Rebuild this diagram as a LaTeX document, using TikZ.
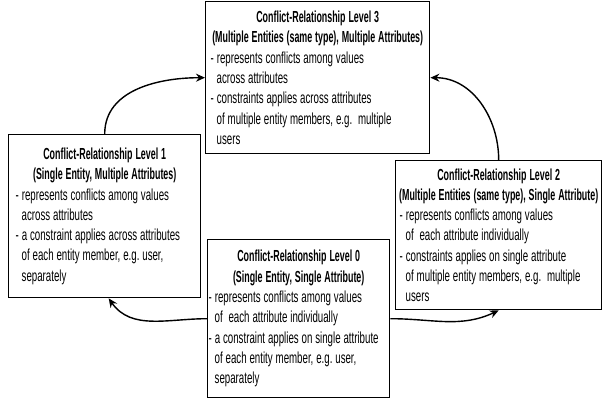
\documentclass[tikz,border=0pt]{standalone}
\usepackage{fontspec}
\setmainfont{Liberation Sans}[FakeStretch=0.606,BoldFeatures={FakeStretch=0.555}]
\usetikzlibrary{arrows.meta,positioning}

\newcommand\lvltitle[2]{\makebox[\linewidth]{\bfseries #1}\newline\makebox[\linewidth]{\bfseries #2}\par}
\newcommand\lvlitem[1]{\par\hangindent=6pt\hangafter=1 - #1\par}

\begin{document}
\begin{tikzpicture}[
            x=1pt, y=-1pt,
            every node/.style={font=\fontsize{16}{20.3}\selectfont\frenchspacing},
            lvlbox/.style={
                draw, line width=1.4pt, anchor=north west, inner ysep=0pt,
                execute at begin node={\raggedright\hyphenpenalty=10000\parindent=0pt
                    \spaceskip=2.9pt plus 1pt minus 0.5pt}
            },
            link/.style={line width=1.4pt, -{Stealth[length=9pt,width=8pt]}}
        ]
        \useasboundingbox (0,0) rectangle (603,404);
        \node[lvlbox, inner xsep=5pt, text width=214pt, minimum width=224pt, minimum height=152pt]
            (lvl3) at (205,1) {\lvltitle{Conflict-Relationship Level 3}{(Multiple Entities (same type), Multiple Attributes)}
            \lvlitem{represents conflicts among values\newline across attributes}
            \lvlitem{constraints applies across attributes\newline of multiple entity members, e.g.~ multiple\newline users}};
        \node[lvlbox, inner xsep=7pt, text width=178pt, minimum width=192pt, minimum height=163pt]
            (lvl1) at (8,134) {\lvltitle{Conflict-Relationship Level 1}{(Single Entity, Multiple Attributes)}
            \lvlitem{represents conflicts among values\newline across attributes}
            \lvlitem{a constraint applies across attributes\newline of each entity member, e.g. user,\newline separately}};
        \node[lvlbox, inner xsep=1pt, text width=180pt, minimum width=182pt, minimum height=158pt]
            (lvl0) at (207,239) {\lvltitle{Conflict-Relationship Level 0}{(Single Entity, Single Attribute)}
            \lvlitem{represents conflicts among values\newline of~ each attribute individually}
            \lvlitem{a constraint applies on single attribute\newline of each entity member, e.g. user,\newline separately}};
        \node[lvlbox, inner xsep=4pt, text width=198pt, minimum width=206pt, minimum height=149pt]
            (lvl2) at (395,160) {\lvltitle{Conflict-Relationship Level 2}{(Multiple Entities (same type), Single Attribute)}
            \lvlitem{represents conflicts among values\newline of~ each attribute individually}
            \lvlitem{constraints applies on single attribute\newline of multiple entity members, e.g.~ multiple\newline users}};
        \draw[link] (lvl1.north) to[out=90, in=180] (lvl3.west);
        \draw[link] (lvl2.north) to[out=90, in=0] (lvl3.east);
        \draw[link] (lvl0.west) to[out=180, in=-55] ([xshift=4pt]lvl1.south);
        \draw[link] (lvl0.east) to[out=0, in=-155] (lvl2.south);
        \end{tikzpicture}
\end{document}
